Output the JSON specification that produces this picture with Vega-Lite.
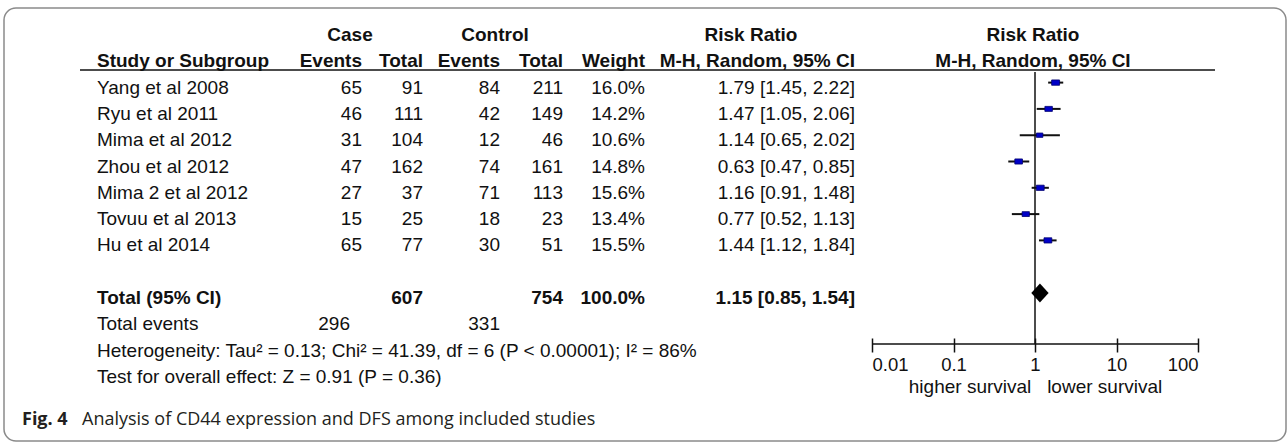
{
  "$schema": "https://vega.github.io/schema/vega-lite/v6.json",
  "width": 1282,
  "height": 433,
  "autosize": "none",
  "padding": {"left": 4, "top": 8, "right": 2, "bottom": 1},
  "background": "white",
  "config": {
    "view": {"stroke": "#8a8a8a", "strokeWidth": 1.5, "cornerRadius": 12},
    "text": {"font": "Liberation Sans", "fontSize": 19, "color": "#111111", "baseline": "middle", "dy": 5}
  },
  "datasets": {
    "studies": [
      {"row": 2, "study": "Yang et al 2008", "case_events": 65, "case_total": 91, "ctrl_events": 84, "ctrl_total": 211, "weight": 16.0, "rr": 1.79, "lo": 1.45, "hi": 2.22},
      {"row": 3, "study": "Ryu et al 2011", "case_events": 46, "case_total": 111, "ctrl_events": 42, "ctrl_total": 149, "weight": 14.2, "rr": 1.47, "lo": 1.05, "hi": 2.06},
      {"row": 4, "study": "Mima et al 2012", "case_events": 31, "case_total": 104, "ctrl_events": 12, "ctrl_total": 46, "weight": 10.6, "rr": 1.14, "lo": 0.65, "hi": 2.02},
      {"row": 5, "study": "Zhou et al 2012", "case_events": 47, "case_total": 162, "ctrl_events": 74, "ctrl_total": 161, "weight": 14.8, "rr": 0.63, "lo": 0.47, "hi": 0.85},
      {"row": 6, "study": "Mima 2 et al 2012", "case_events": 27, "case_total": 37, "ctrl_events": 71, "ctrl_total": 113, "weight": 15.6, "rr": 1.16, "lo": 0.91, "hi": 1.48},
      {"row": 7, "study": "Tovuu et al 2013", "case_events": 15, "case_total": 25, "ctrl_events": 18, "ctrl_total": 23, "weight": 13.4, "rr": 0.77, "lo": 0.52, "hi": 1.13},
      {"row": 8, "study": "Hu et al 2014", "case_events": 65, "case_total": 77, "ctrl_events": 30, "ctrl_total": 51, "weight": 15.5, "rr": 1.44, "lo": 1.12, "hi": 1.84}
    ],
    "pooled": [{"row": 10, "rr": 1.15, "lo": 0.85, "hi": 1.54}],
    "headers": [
      {"row": 0, "col": 1, "label": "Case"},
      {"row": 0, "col": 4, "label": "Control"},
      {"row": 0, "col": 8, "label": "Risk Ratio"},
      {"row": 0, "col": 10, "label": "Risk Ratio"},
      {"row": 1, "col": 0, "label": "Study or Subgroup"},
      {"row": 1, "col": 2, "label": "Events"},
      {"row": 1, "col": 3, "label": "Total"},
      {"row": 1, "col": 5, "label": "Events"},
      {"row": 1, "col": 6, "label": "Total"},
      {"row": 1, "col": 7, "label": "Weight"},
      {"row": 1, "col": 9, "label": "M-H, Random, 95% CI"},
      {"row": 1, "col": 10, "label": "M-H, Random, 95% CI"}
    ],
    "totals": [
      {"row": 10, "col": 0, "label": "Total (95% CI)"},
      {"row": 10, "col": 3, "label": "607"},
      {"row": 10, "col": 6, "label": "754"},
      {"row": 10, "col": 7, "label": "100.0%"},
      {"row": 10, "col": 9, "label": "1.15 [0.85, 1.54]"}
    ],
    "notes": [
      {"row": 11, "col": 0, "label": "Total events"},
      {"row": 11, "col": 1, "label": "296"},
      {"row": 11, "col": 5, "label": "331"},
      {"row": 12, "col": 0, "label": "Heterogeneity: Tau² = 0.13; Chi² = 41.39, df = 6 (P < 0.00001); I² = 86%"},
      {"row": 13, "col": 0, "label": "Test for overall effect: Z = 0.91 (P = 0.36)"}
    ],
    "caption": [
      {"row": 14, "col": -3, "label": "Fig. 4"},
      {"row": 14, "col": -1, "label": "Analysis of CD44 expression and DFS among included studies"}
    ]
  },
  "layer": [
    {
      "layer": [
        {
          "data": {"name": "pooled"},
          "mark": {"type": "rule", "color": "#111111", "strokeWidth": 1.5},
          "encoding": {
            "x": {"datum": -2, "type": "quantitative", "scale": {"type": "linear", "domain": [-3, -2, -1, 0, 1, 2, 3, 4, 5, 6, 7, 8, 9, 10, 11], "range": [18, 76, 78, 93, 346, 358, 419, 491, 496, 559, 641, 747, 851, 1029, 1211], "zero": false, "nice": false}, "axis": null},
            "x2": {"datum": 11},
            "y": {"datum": 1.52, "type": "quantitative", "scale": {"domain": [0, 13, 14], "range": [22, 363.9, 407], "zero": false, "nice": false}, "axis": null}
          }
        },
        {
          "data": {"name": "studies"},
          "mark": {"type": "text", "align": "left"},
          "encoding": {
            "x": {"datum": 0, "type": "quantitative", "axis": null},
            "y": {"field": "row", "type": "quantitative", "axis": null},
            "text": {"field": "study"}
          }
        },
        {
          "data": {"name": "studies"},
          "mark": {"type": "text", "align": "right"},
          "encoding": {
            "x": {"datum": 2, "type": "quantitative", "axis": null},
            "y": {"field": "row", "type": "quantitative", "axis": null},
            "text": {"field": "case_events"}
          }
        },
        {
          "data": {"name": "studies"},
          "mark": {"type": "text", "align": "right"},
          "encoding": {
            "x": {"datum": 3, "type": "quantitative", "axis": null},
            "y": {"field": "row", "type": "quantitative", "axis": null},
            "text": {"field": "case_total"}
          }
        },
        {
          "data": {"name": "studies"},
          "mark": {"type": "text", "align": "right"},
          "encoding": {
            "x": {"datum": 5, "type": "quantitative", "axis": null},
            "y": {"field": "row", "type": "quantitative", "axis": null},
            "text": {"field": "ctrl_events"}
          }
        },
        {
          "data": {"name": "studies"},
          "mark": {"type": "text", "align": "right"},
          "encoding": {
            "x": {"datum": 6, "type": "quantitative", "axis": null},
            "y": {"field": "row", "type": "quantitative", "axis": null},
            "text": {"field": "ctrl_total"}
          }
        },
        {
          "data": {"name": "studies"},
          "transform": [{"calculate": "format(datum.weight, '.1f') + '%'", "as": "wlabel"}],
          "mark": {"type": "text", "align": "right"},
          "encoding": {
            "x": {"datum": 7, "type": "quantitative", "axis": null},
            "y": {"field": "row", "type": "quantitative", "axis": null},
            "text": {"field": "wlabel"}
          }
        },
        {
          "data": {"name": "studies"},
          "transform": [{"calculate": "format(datum.rr, '.2f') + ' [' + format(datum.lo, '.2f') + ', ' + format(datum.hi, '.2f') + ']'", "as": "cilabel"}],
          "mark": {"type": "text", "align": "right"},
          "encoding": {
            "x": {"datum": 9, "type": "quantitative", "axis": null},
            "y": {"field": "row", "type": "quantitative", "axis": null},
            "text": {"field": "cilabel"}
          }
        },
        {
          "data": {"name": "headers"},
          "transform": [{"filter": "datum.row == 0 || datum.col == 10"}],
          "mark": {"type": "text", "align": "center", "fontWeight": "bold"},
          "encoding": {
            "x": {"field": "col", "type": "quantitative", "axis": null},
            "y": {"field": "row", "type": "quantitative", "axis": null},
            "text": {"field": "label"}
          }
        },
        {
          "data": {"name": "headers"},
          "transform": [{"filter": "datum.row == 1 && datum.col == 0"}],
          "mark": {"type": "text", "align": "left", "fontWeight": "bold"},
          "encoding": {
            "x": {"field": "col", "type": "quantitative", "axis": null},
            "y": {"field": "row", "type": "quantitative", "axis": null},
            "text": {"field": "label"}
          }
        },
        {
          "data": {"name": "headers"},
          "transform": [{"filter": "datum.row == 1 && datum.col > 0 && datum.col < 10"}],
          "mark": {"type": "text", "align": "right", "fontWeight": "bold"},
          "encoding": {
            "x": {"field": "col", "type": "quantitative", "axis": null},
            "y": {"field": "row", "type": "quantitative", "axis": null},
            "text": {"field": "label"}
          }
        },
        {
          "data": {"name": "totals"},
          "transform": [{"filter": "datum.col == 0"}],
          "mark": {"type": "text", "align": "left", "fontWeight": "bold"},
          "encoding": {
            "x": {"field": "col", "type": "quantitative", "axis": null},
            "y": {"field": "row", "type": "quantitative", "axis": null},
            "text": {"field": "label"}
          }
        },
        {
          "data": {"name": "totals"},
          "transform": [{"filter": "datum.col > 0"}],
          "mark": {"type": "text", "align": "right", "fontWeight": "bold"},
          "encoding": {
            "x": {"field": "col", "type": "quantitative", "axis": null},
            "y": {"field": "row", "type": "quantitative", "axis": null},
            "text": {"field": "label"}
          }
        },
        {
          "data": {"name": "notes"},
          "transform": [{"filter": "datum.col == 0"}],
          "mark": {"type": "text", "align": "left"},
          "encoding": {
            "x": {"field": "col", "type": "quantitative", "axis": null},
            "y": {"field": "row", "type": "quantitative", "axis": null},
            "text": {"field": "label"}
          }
        },
        {
          "data": {"name": "notes"},
          "transform": [{"filter": "datum.col > 0"}],
          "mark": {"type": "text", "align": "right"},
          "encoding": {
            "x": {"field": "col", "type": "quantitative", "axis": null},
            "y": {"field": "row", "type": "quantitative", "axis": null},
            "text": {"field": "label"}
          }
        },
        {
          "data": {"name": "caption"},
          "transform": [{"filter": "datum.col == -3"}],
          "mark": {"type": "text", "align": "left", "font": "Open Sans", "fontSize": 18, "fontWeight": "bold", "color": "#231f20"},
          "encoding": {
            "x": {"field": "col", "type": "quantitative", "axis": null},
            "y": {"field": "row", "type": "quantitative", "axis": null},
            "text": {"field": "label"}
          }
        },
        {
          "data": {"name": "caption"},
          "transform": [{"filter": "datum.col == -1"}],
          "mark": {"type": "text", "align": "left", "font": "Open Sans", "fontSize": 18, "color": "#231f20"},
          "encoding": {
            "x": {"field": "col", "type": "quantitative", "axis": null},
            "y": {"field": "row", "type": "quantitative", "axis": null},
            "text": {"field": "label"}
          }
        }
      ]
    },
    {
      "layer": [
        {
          "data": {"name": "studies"},
          "mark": {"type": "rule", "color": "#111111", "strokeWidth": 2},
          "encoding": {
            "x": {
              "field": "lo", "type": "quantitative",
              "scale": {"type": "log", "domain": [0.01, 100], "range": [868, 1194], "nice": false},
              "axis": {
                "values": [0.01, 0.1, 1, 10, 100], "format": "~g", "domain": false, "grid": false,
                "ticks": true, "tickSize": 14, "tickWidth": 1.5, "tickColor": "#111111",
                "labelFont": "Liberation Sans", "labelFontSize": 18.5, "labelColor": "#111111", "labelPadding": 3, "labelFlush": true,
                "title": "higher survival\u00a0\u00a0\u00a0lower survival", "titleFont": "Liberation Sans", "titleFontSize": 19,
                "titleFontWeight": "normal", "titleColor": "#111111", "titlePadding": 4, "offset": -103
              }
            },
            "x2": {"field": "hi"},
            "y": {"field": "row", "type": "quantitative", "axis": null}
          }
        },
        {
          "data": {"name": "pooled"},
          "mark": {"type": "rule", "color": "#111111", "strokeWidth": 1.5},
          "encoding": {
            "x": {"datum": 1, "type": "quantitative"},
            "y": {"datum": 1.6, "type": "quantitative", "axis": null},
            "y2": {"datum": 11.94}
          }
        },
        {
          "data": {"name": "pooled"},
          "mark": {"type": "rule", "color": "#111111", "strokeWidth": 1.5},
          "encoding": {
            "x": {"datum": 0.01, "type": "quantitative"},
            "x2": {"datum": 100},
            "y": {"datum": 11.94, "type": "quantitative", "axis": null}
          }
        },
        {
          "data": {"name": "studies"},
          "mark": {"type": "point", "filled": true, "shape": "M-1.2,-0.8H1.2V0.8H-1.2Z", "fill": "#0000c8", "stroke": "#00006e", "strokeWidth": 0.8, "opacity": 1},
          "encoding": {
            "x": {"field": "rr", "type": "quantitative"},
            "y": {"field": "row", "type": "quantitative", "axis": null},
            "size": {"field": "weight", "type": "quantitative", "scale": {"domain": [0, 16], "range": [0, 44]}, "legend": null}
          }
        },
        {
          "data": {"name": "pooled"},
          "mark": {"type": "point", "filled": true, "shape": "M-1,0L0,-1.1L1,0L0,1.1Z", "size": 300, "color": "#000000", "opacity": 1},
          "encoding": {
            "x": {"field": "rr", "type": "quantitative"},
            "y": {"field": "row", "type": "quantitative", "axis": null}
          }
        }
      ]
    }
  ],
  "resolve": {"scale": {"x": "independent"}, "axis": {"x": "independent"}}
}
